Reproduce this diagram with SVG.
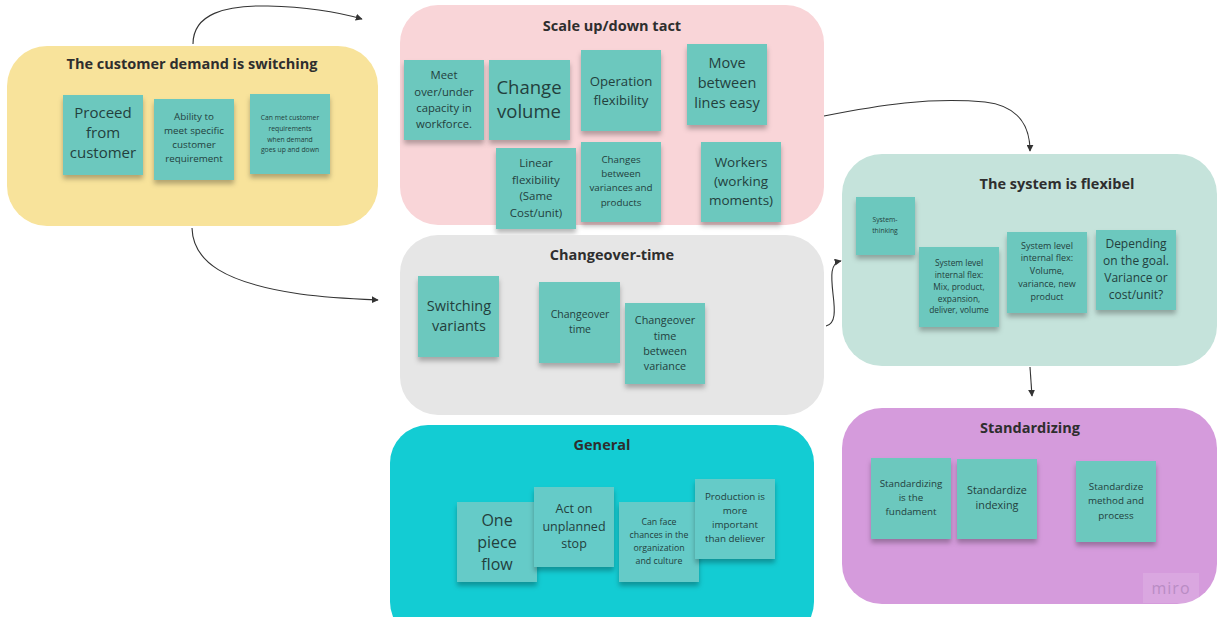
<svg xmlns="http://www.w3.org/2000/svg" width="1217" height="617" viewBox="0 0 1217 617">
  <defs>
    <filter id="noteShadow" x="-20%" y="-20%" width="140%" height="150%">
      <feDropShadow dx="0" dy="4" stdDeviation="2.5" flood-color="#000" flood-opacity="0.28"/>
    </filter>
    <marker id="arrow" viewBox="0 0 10 10" refX="9" refY="5" markerWidth="7" markerHeight="7" orient="auto-start-reverse" markerUnits="userSpaceOnUse">
      <path d="M0,0 L10,5 L0,10 z" fill="#333"/>
    </marker>
    <style>
      .frame-title { font-family: "Open Sans", "Liberation Sans", sans-serif; font-weight: 700; font-size: 14.5px; fill: #2e2e2e; text-anchor: middle; }
      .note { fill: #6cc8be; filter: url(#noteShadow); }
      .note-g { fill: #65cbc8; filter: url(#noteShadow); }
      .txt { font-family: "Open Sans", "Liberation Sans", sans-serif; fill: #23403d; text-anchor: middle; }
      .conn { fill: none; stroke: #333; stroke-width: 1.1; marker-end: url(#arrow); }
    </style>
  </defs>

  <rect width="1217" height="617" fill="#ffffff"/>

  <!-- Frame: customer demand -->
  <g id="customer-demand">
    <rect x="7" y="46" width="371" height="180" rx="40" fill="#f8e39b"/>
    <text class="frame-title" x="192" y="69">The customer demand is switching</text>
    <rect class="note" x="63" y="95" width="80" height="80"/>
    <text class="txt" font-size="15" x="103"><tspan x="103" y="118">Proceed</tspan><tspan x="103" y="138">from</tspan><tspan x="103" y="158">customer</tspan></text>
    <rect class="note" x="154" y="99" width="80" height="81"/>
    <text class="txt" font-size="9.8"><tspan x="194" y="120">Ability to</tspan><tspan x="194" y="134">meet specific</tspan><tspan x="194" y="148">customer</tspan><tspan x="194" y="162">requirement</tspan></text>
    <rect class="note" x="250" y="94" width="80" height="80"/>
    <text class="txt" font-size="6.8"><tspan x="290" y="120">Can met customer</tspan><tspan x="290" y="131">requirements</tspan><tspan x="290" y="142">when demand</tspan><tspan x="290" y="152">goes up and down</tspan></text>
  </g>

  <!-- Frame: scale up/down tact -->
  <g id="scale-tact">
    <rect x="400" y="5" width="424" height="220" rx="38" fill="#f9d5d8"/>
    <text class="frame-title" x="612" y="31">Scale up/down tact</text>
    <rect class="note" x="404" y="60" width="80" height="80"/>
    <text class="txt" font-size="11.3"><tspan x="444" y="79">Meet</tspan><tspan x="444" y="96">over/under</tspan><tspan x="444" y="112">capacity in</tspan><tspan x="444" y="128">workforce.</tspan></text>
    <rect class="note" x="489" y="60" width="81" height="80"/>
    <text class="txt" font-size="18.5"><tspan x="529" y="94">Change</tspan><tspan x="529" y="118">volume</tspan></text>
    <rect class="note" x="581" y="50" width="80" height="81"/>
    <text class="txt" font-size="13.2"><tspan x="621" y="86">Operation</tspan><tspan x="621" y="105">flexibility</tspan></text>
    <rect class="note" x="687" y="44" width="80" height="81"/>
    <text class="txt" font-size="14.5"><tspan x="727" y="68">Move</tspan><tspan x="727" y="88">between</tspan><tspan x="727" y="108">lines easy</tspan></text>
    <rect class="note" x="496" y="148" width="80" height="81"/>
    <text class="txt" font-size="11.5"><tspan x="536" y="167">Linear</tspan><tspan x="536" y="184">flexibility</tspan><tspan x="536" y="200">(Same</tspan><tspan x="536" y="217">Cost/unit)</tspan></text>
    <rect class="note" x="581" y="142" width="80" height="80"/>
    <text class="txt" font-size="9.8"><tspan x="621" y="163">Changes</tspan><tspan x="621" y="177">between</tspan><tspan x="621" y="191">variances and</tspan><tspan x="621" y="206">products</tspan></text>
    <rect class="note" x="701" y="142" width="80" height="80"/>
    <text class="txt" font-size="13.5"><tspan x="741" y="167">Workers</tspan><tspan x="741" y="186">(working</tspan><tspan x="741" y="205">moments)</tspan></text>
  </g>

  <!-- Frame: changeover time -->
  <g id="changeover-time">
    <rect x="400" y="235" width="424" height="180" rx="38" fill="#e6e6e6"/>
    <text class="frame-title" x="612" y="260">Changeover-time</text>
    <rect class="note" x="418" y="276" width="81" height="81"/>
    <text class="txt" font-size="14.5"><tspan x="459" y="311">Switching</tspan><tspan x="459" y="331">variants</tspan></text>
    <rect class="note" x="539" y="282" width="81" height="81"/>
    <text class="txt" font-size="10.5"><tspan x="580" y="318">Changeover</tspan><tspan x="580" y="333">time</tspan></text>
    <rect class="note" x="625" y="303" width="80" height="81"/>
    <text class="txt" font-size="10.8"><tspan x="665" y="324">Changeover</tspan><tspan x="665" y="340">time</tspan><tspan x="665" y="355">between</tspan><tspan x="665" y="370">variance</tspan></text>
  </g>

  <!-- Frame: the system is flexibel -->
  <g id="system-flexibel">
    <rect x="842" y="154" width="375" height="212" rx="40" fill="#c5e3db"/>
    <text class="frame-title" x="1057" y="189">The system is flexibel</text>
    <rect class="note" x="856" y="197" width="59" height="58"/>
    <text class="txt" font-size="6.8"><tspan x="885" y="222">System-</tspan><tspan x="885" y="233">thinking</tspan></text>
    <rect class="note" x="919" y="247" width="80" height="80"/>
    <text class="txt" font-size="8.4"><tspan x="959" y="266">System level</tspan><tspan x="959" y="278">internal flex:</tspan><tspan x="959" y="290">Mix, product,</tspan><tspan x="959" y="302">expansion,</tspan><tspan x="959" y="313">deliver, volume</tspan></text>
    <rect class="note" x="1007" y="232" width="80" height="81"/>
    <text class="txt" font-size="9"><tspan x="1047" y="249">System level</tspan><tspan x="1047" y="261">internal flex:</tspan><tspan x="1047" y="274">Volume,</tspan><tspan x="1047" y="287">variance, new</tspan><tspan x="1047" y="300">product</tspan></text>
    <rect class="note" x="1096" y="230" width="80" height="80"/>
    <text class="txt" font-size="12"><tspan x="1136" y="248">Depending</tspan><tspan x="1136" y="265">on the goal.</tspan><tspan x="1136" y="282">Variance or</tspan><tspan x="1136" y="299">cost/unit?</tspan></text>
  </g>

  <!-- Frame: general -->
  <g id="general">
    <rect x="390" y="425" width="424" height="215" rx="38" fill="#13ccd3"/>
    <text class="frame-title" x="602" y="450">General</text>
    <rect class="note-g" x="457" y="502" width="80" height="80"/>
    <text class="txt" font-size="16"><tspan x="497" y="526">One</tspan><tspan x="497" y="548">piece</tspan><tspan x="497" y="570">flow</tspan></text>
    <rect class="note-g" x="534" y="487" width="80" height="80"/>
    <text class="txt" font-size="12.5"><tspan x="574" y="513">Act on</tspan><tspan x="574" y="531">unplanned</tspan><tspan x="574" y="548">stop</tspan></text>
    <rect class="note-g" x="619" y="502" width="80" height="80"/>
    <text class="txt" font-size="8.8"><tspan x="659" y="525">Can face</tspan><tspan x="659" y="538">chances in the</tspan><tspan x="659" y="551">organization</tspan><tspan x="659" y="564">and culture</tspan></text>
    <rect class="note-g" x="695" y="479" width="80" height="80"/>
    <text class="txt" font-size="9.8"><tspan x="735" y="500">Production is</tspan><tspan x="735" y="514">more</tspan><tspan x="735" y="528">important</tspan><tspan x="735" y="542">than deliever</tspan></text>
  </g>

  <!-- Frame: standardizing -->
  <g id="standardizing">
    <rect x="842" y="408" width="375" height="196" rx="40" fill="#d59bdc"/>
    <text class="frame-title" x="1030" y="433">Standardizing</text>
    <rect class="note" x="871" y="458" width="80" height="81"/>
    <text class="txt" font-size="9.8"><tspan x="911" y="487">Standardizing</tspan><tspan x="911" y="501">is the</tspan><tspan x="911" y="515">fundament</tspan></text>
    <rect class="note" x="957" y="459" width="80" height="80"/>
    <text class="txt" font-size="10.8"><tspan x="997" y="494">Standardize</tspan><tspan x="997" y="509">indexing</tspan></text>
    <rect class="note" x="1076" y="461" width="80" height="81"/>
    <text class="txt" font-size="9.8"><tspan x="1116" y="490">Standardize</tspan><tspan x="1116" y="504">method and</tspan><tspan x="1116" y="519">process</tspan></text>
    <rect x="1143" y="573" width="56" height="30" fill="#ffffff" fill-opacity="0.12"/>
    <text x="1171" y="594" font-family="'Open Sans', 'Liberation Sans', sans-serif" font-size="16" fill="#b98cc4" text-anchor="middle" letter-spacing="1">miro</text>
  </g>

  <!-- Connectors -->
  <g id="connectors">
    <path class="conn" d="M193,44 C193,14 225,5 268,6 C305,7 338,12 362,19"/>
    <path class="conn" d="M192,228 C193,262 225,283 300,294 C330,298 355,299 378,300"/>
    <path class="conn" d="M824,116 C880,105 930,97 985,102 C1020,106 1030,128 1030,151"/>
    <path class="conn" d="M826,326 C836,324 835,310 833,294 C831,276 830,263 841,261"/>
    <path class="conn" d="M1030,367 L1032,396"/>
  </g>
</svg>
